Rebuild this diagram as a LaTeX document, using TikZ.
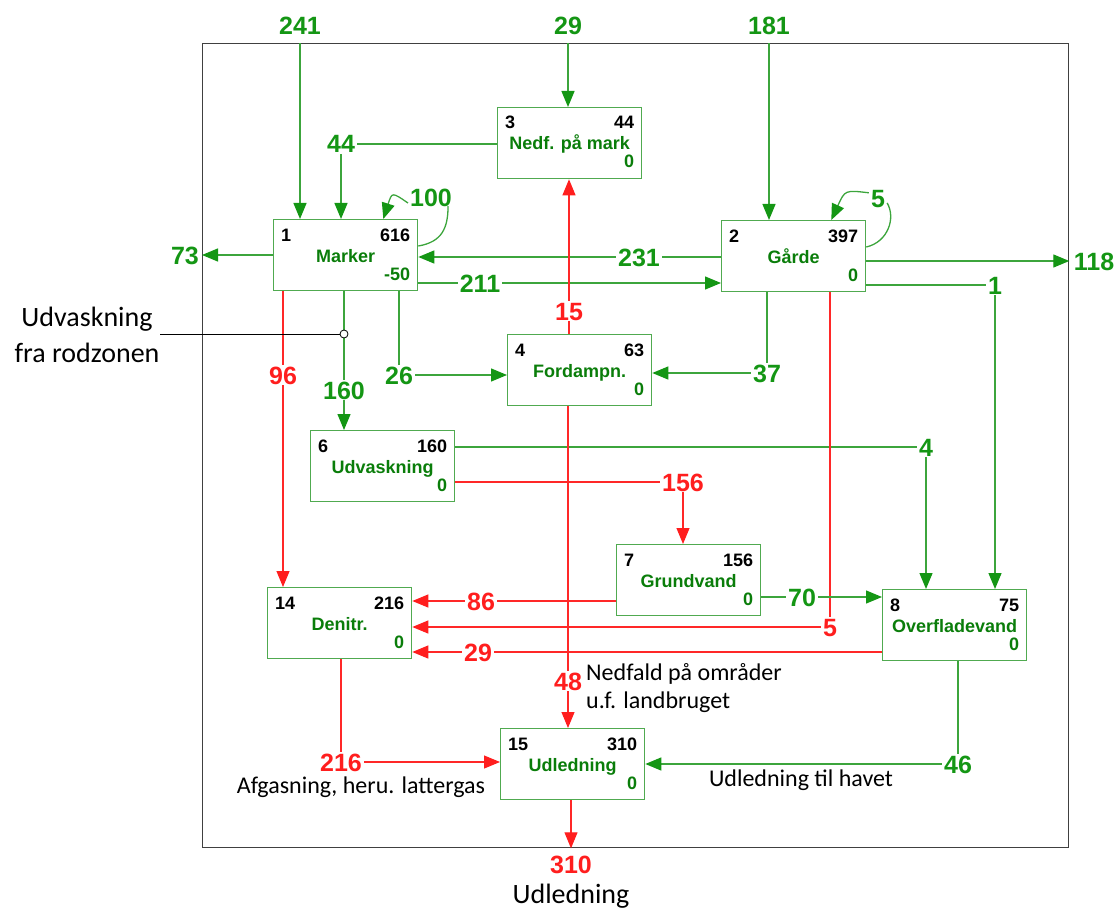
\documentclass[tikz,border=0pt]{standalone}
\usepackage{fontspec}
\setmainfont{Liberation Sans}
\newfontfamily\calib{Carlito}
\usetikzlibrary{arrows.meta}
\definecolor{gline}{RGB}{60,165,60}
\definecolor{glabc}{RGB}{20,150,20}
\definecolor{gname}{RGB}{10,125,10}
\definecolor{gbox}{RGB}{80,170,80}
\definecolor{rline}{RGB}{255,40,40}
\definecolor{rlabc}{RGB}{255,30,30}
\definecolor{frameg}{RGB}{64,64,64}
\tikzset{
  bx/.style={draw=gbox,line width=1.3pt,minimum width=144pt,minimum height=71pt,inner sep=0pt,anchor=north west},
  numt/.style={inner sep=0pt,font=\fontsize{18pt}{20pt}\selectfont\bfseries},
  gl/.style={draw=gline,line width=1.3pt},
  ga/.style={gl,-{Triangle[length=16pt,width=13pt,color=glabc]}},
  rl/.style={draw=rline,line width=1.1pt},
  ra/.style={rl,-{Triangle[length=16pt,width=13pt,color=rlabc]}},
  lbl/.style={fill=white,inner xsep=2pt,inner ysep=1pt,text height=18pt,text depth=0pt,font=\fontsize{25pt}{28pt}\selectfont\bfseries},
  lg/.style={lbl,text=glabc},
  lr/.style={lbl,text=rlabc},
  ann/.style={inner sep=0pt,font=\calib\fontsize{24pt}{28pt}\selectfont,align=left},
}
\newcommand\bxtxt[5]{%
  \node[numt,anchor=base west] (#1n) at ([xshift=8pt,yshift=-22pt]#1.north west) {#2};
  \node[numt,anchor=base east] (#1v) at ([xshift=-8pt,yshift=-22pt]#1.north east) {#3};
  \node[numt,anchor=base,text=gname] (#1t) at ([yshift=-43pt]#1.north) {#4};
  \node[numt,anchor=base east,text=gname] (#1b) at ([xshift=-8pt,yshift=-61pt]#1.north east) {#5};}
\begin{document}
\begin{tikzpicture}[x=1pt,y=-1pt]
\useasboundingbox (0,0) rectangle (1115,909);
\node[draw=frameg,line width=1.3pt,minimum width=866pt,minimum height=804pt,inner sep=0pt,anchor=north west] (fr) at (202,43) {};
% boxes
\node[bx] (marker) at (273,219) {};
\node[bx] (garde) at (721,220) {};
\node[bx] (nedf) at (497,107) {};
\node[bx] (ford) at (507,334) {};
\node[bx] (udv) at (310,430) {};
\node[bx] (grund) at (616,544) {};
\node[bx] (ofv) at (882,589) {};
\node[bx] (deni) at (267,587) {};
\node[bx] (udl) at (500,728) {};
\bxtxt{marker}{1}{616}{Marker}{-50}
\bxtxt{garde}{2}{397}{Gårde}{0}
\bxtxt{nedf}{3}{44}{Nedf. på mark}{0}
\bxtxt{ford}{4}{63}{Fordampn.}{0}
\bxtxt{udv}{6}{160}{Udvaskning}{0}
\bxtxt{grund}{7}{156}{Grundvand}{0}
\bxtxt{ofv}{8}{75}{Overfladevand}{0}
\bxtxt{deni}{14}{216}{Denitr.}{0}
\bxtxt{udl}{15}{310}{Udledning}{0}
% labels
\node[lg] (l241) at (300,26) {241};
\node[lg] (l29) at (568,26) {29};
\node[lg] (l181) at (769,26) {181};
\node[lg] (l44) at (341,144) {44};
\node[lg] (l100) at (431,198) {100};
\node[lg] (l73) at (185,255) {73};
\node[lg] (l231) at (639,257) {231};
\node[lg] (l211) at (480,283) {211};
\node[lg] (l5g) at (878,199) {5};
\node[lg] (l118) at (1094,261) {118};
\node[lg] (l1) at (995,285) {1};
\node[lr] (l15) at (569,311) {15};
\node[lg] (l26) at (399,375) {26};
\node[lg] (l37) at (767,373) {37};
\node[lg] (l160) at (344,390) {160};
\node[lr] (l96) at (283,375) {96};
\node[lg] (l4) at (926,447) {4};
\node[lr] (l156) at (683,482) {156};
\node[lr] (l86) at (481,601) {86};
\node[lr] (l5r) at (830,627) {5};
\node[lg] (l70) at (802,597) {70};
\node[lr] (l29r) at (478,652) {29};
\node[lr] (l48) at (568,681) {48};
\node[lr] (l216) at (341,762) {216};
\node[lg] (l46) at (958,764) {46};
\node[lr] (l310) at (571,864) {310};
% connectors
\draw[ga] (l241 |- fr.north) -- (l241 |- marker.north);
\draw[ga] (l29 |- fr.north) -- (l29 |- nedf.north);
\draw[ga] (l181 |- fr.north) -- (l181 |- garde.north);
\draw[gl] (nedf.west |- l44) -- (l44.east);
\draw[ga] (l44.south) -- (l44.south |- marker.north);
\draw[gl] ([yshift=-27pt]marker.north east) .. controls (442,242) and (448,228) .. ([xshift=-6pt,yshift=2pt]l100.south east);
\draw[ga] ([yshift=-5pt]l100.west) .. controls (392,192) .. ([xshift=-35pt]marker.north east);
\draw[ga] (marker.west |- l73) -- (l73 -| fr.west);
\draw[gl] (garde.west |- l231) -- (l231.east);
\draw[ga] (l231.west) -- (l231.west -| marker.east);
\draw[gl] (marker.east |- l211) -- (l211.west);
\draw[ga] (l211.east) -- (l211.east -| garde.west);
\draw[gl] ([yshift=-27pt]garde.north east) .. controls (888,242) and (896,218) .. ([yshift=-4pt]l5g.east);
\draw[ga] ([yshift=-4pt]l5g.north west) .. controls (845,190) .. ([xshift=-35pt]garde.north east);
\draw[ga] (garde.east |- l118) -- (l118 -| fr.east);
\draw[gl] (garde.east |- l1) -- (l1.west);
\draw[ga] (l1.south) -- (l1.south |- ofv.north);
\draw[ra] (l15.north) -- (l15.north |- nedf.south);
\draw[rl] (l15.south) -- (l15.south |- ford.north);
\draw[gl] (l26.north |- marker.south) -- (l26.north);
\draw[ga] (l26.east) -- (l26.east -| ford.west);
\draw[gl] (l37.north |- garde.south) -- (l37.north);
\draw[ga] (l37.west) -- (l37.west -| ford.east);
\draw[gl] (l160.north |- marker.south) -- (l160.north);
\draw[ga] (l160.south) -- (l160.south |- udv.north);
\draw[rl] (l96.north |- marker.south) -- (l96.north);
\draw[ra] (l96.south) -- (l96.south |- deni.north);
\draw[gl] (udv.east |- l4) -- (l4.west);
\draw[ga] (l4.south) -- (l4.south |- ofv.north);
\draw[rl] (udv.east |- l156) -- (l156.west);
\draw[ra] (l156.south) -- (l156.south |- grund.north);
\draw[rl] (grund.west |- l86) -- (l86.east);
\draw[ra] (l86.west) -- (l86.west -| deni.east);
\draw[rl] (l5r.north |- garde.south) -- (l5r.north);
\draw[ra] (l5r.west) -- (l5r.west -| deni.east);
\draw[gl] (grund.east |- l70) -- (l70.west);
\draw[ga] (l70.east) -- (l70.east -| ofv.west);
\draw[rl] (ofv.west |- l29r) -- (l29r.east);
\draw[ra] (l29r.west) -- (l29r.west -| deni.east);
\draw[rl] (l48.north |- ford.south) -- (l48.north);
\draw[ra] (l48.south) -- (l48.south |- udl.north);
\draw[rl] (l216.north |- deni.south) -- (l216.north);
\draw[ra] (l216.east) -- (l216.east -| udl.west);
\draw[gl] (l46.north |- ofv.south) -- (l46.north);
\draw[ga] (l46.west) -- (l46.west -| udl.east);
\draw[ra] (l310 |- udl.south) -- (l310 |- fr.south);
% annotations
\node[ann,align=center,font=\calib\fontsize{28pt}{36pt}\selectfont,anchor=base] (rztxt) at (87,362) {Udvaskning\\fra rodzonen};
\node[circle,draw=black,line width=0.8pt,fill=white,inner sep=0pt,minimum size=8pt] (rzc) at (344,334) {};
\draw[black,line width=1pt] (rzc.west) -- (rzc.west -| rztxt.east);
\node[ann,anchor=base west] (nedtxt) at (586,708) {Nedfald på områder\\u.f. landbruget};
\node[ann,anchor=base] (afgtxt) at (361,793) {Afgasning, heru. lattergas};
\node[ann,anchor=base] (havtxt) at (801,786) {Udledning til havet};
\node[ann,anchor=base,font=\calib\fontsize{28pt}{34pt}\selectfont] (udltxt) at (571,903) {Udledning};
\end{tikzpicture}
\end{document}
